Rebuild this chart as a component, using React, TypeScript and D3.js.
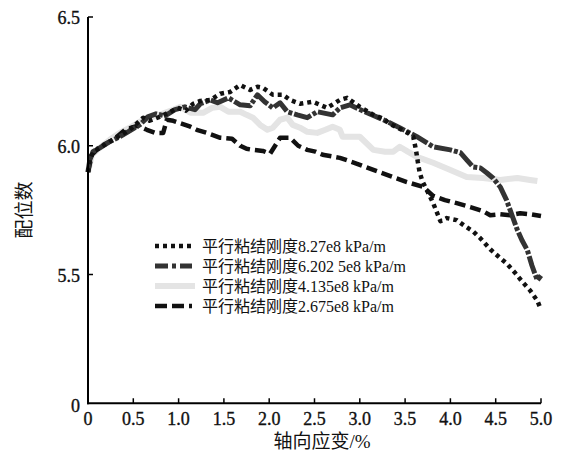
import React from 'react';
import * as d3 from 'd3';

// axial strain (%) and coordination number for each parallel-bond stiffness
const strainA = [0, 0.02, 0.055, 0.13, 0.24, 0.35, 0.46, 0.61, 0.68, 0.79, 0.91, 0.99, 1.08, 1.16, 1.24, 1.35, 1.46, 1.57, 1.68, 1.79, 1.87, 1.93, 2.04, 2.15, 2.23, 2.34, 2.48, 2.64, 2.78, 2.86, 3.0, 3.15, 3.26, 3.33, 3.44, 3.53, 3.59, 3.62, 3.64, 3.66, 3.69, 3.74, 3.81, 3.85, 3.89, 3.96, 4.07, 4.16, 4.25, 4.33, 4.44, 4.53, 4.62, 4.71, 4.8, 4.88, 4.96, 5.0];
const coordA = [5.898, 5.945, 5.977, 5.992, 6.016, 6.039, 6.062, 6.109, 6.097, 6.112, 6.132, 6.147, 6.136, 6.163, 6.174, 6.178, 6.202, 6.209, 6.236, 6.217, 6.229, 6.225, 6.198, 6.198, 6.178, 6.163, 6.171, 6.147, 6.178, 6.186, 6.151, 6.12, 6.105, 6.085, 6.066, 6.05, 6.035, 5.984, 5.938, 5.898, 5.863, 5.828, 5.777, 5.742, 5.707, 5.719, 5.711, 5.688, 5.668, 5.641, 5.598, 5.57, 5.543, 5.508, 5.469, 5.438, 5.398, 5.363];

const strainB = [0, 0.02, 0.055, 0.13, 0.24, 0.35, 0.46, 0.57, 0.66, 0.75, 0.85, 0.96, 1.07, 1.18, 1.24, 1.35, 1.43, 1.55, 1.68, 1.79, 1.87, 1.95, 2.04, 2.12, 2.2, 2.31, 2.42, 2.53, 2.7, 2.78, 2.89, 3.08, 3.26, 3.44, 3.63, 3.81, 4.0, 4.11, 4.18, 4.25, 4.33, 4.4, 4.47, 4.55, 4.62, 4.68, 4.74, 4.79, 4.85, 4.9, 4.96, 5.0];
const coordB = [5.898, 5.945, 5.977, 5.992, 6.016, 6.035, 6.058, 6.081, 6.112, 6.124, 6.116, 6.14, 6.151, 6.14, 6.163, 6.178, 6.167, 6.186, 6.159, 6.155, 6.198, 6.171, 6.147, 6.167, 6.132, 6.12, 6.109, 6.132, 6.12, 6.147, 6.159, 6.128, 6.101, 6.07, 6.035, 5.996, 5.984, 5.973, 5.945, 5.918, 5.914, 5.895, 5.875, 5.84, 5.789, 5.73, 5.672, 5.633, 5.594, 5.535, 5.477, 5.496];

const strainC = [0, 0.044, 0.13, 0.24, 0.35, 0.46, 0.57, 0.68, 0.79, 0.94, 1.02, 1.13, 1.27, 1.37, 1.46, 1.55, 1.68, 1.75, 1.82, 1.9, 1.98, 2.04, 2.12, 2.2, 2.26, 2.34, 2.42, 2.53, 2.62, 2.7, 2.78, 2.81, 3.0, 3.15, 3.28, 3.37, 3.44, 3.53, 3.63, 3.81, 4.0, 4.18, 4.36, 4.55, 4.74, 4.88, 4.96];
const coordC = [5.898, 5.965, 5.992, 6.023, 6.05, 6.07, 6.093, 6.109, 6.12, 6.14, 6.151, 6.128, 6.128, 6.147, 6.151, 6.132, 6.132, 6.12, 6.109, 6.081, 6.062, 6.07, 6.101, 6.109, 6.081, 6.07, 6.054, 6.05, 6.062, 6.074, 6.062, 6.035, 6.035, 5.984, 5.977, 5.977, 5.996, 5.977, 5.957, 5.934, 5.906, 5.879, 5.875, 5.867, 5.875, 5.867, 5.863];

const strainD = [0, 0.044, 0.13, 0.28, 0.41, 0.55, 0.65, 0.74, 0.83, 0.87, 0.94, 1.04, 1.13, 1.2, 1.31, 1.46, 1.59, 1.68, 1.75, 1.82, 1.93, 2.01, 2.12, 2.23, 2.32, 2.42, 2.51, 2.59, 2.78, 2.97, 3.15, 3.33, 3.52, 3.7, 3.81, 3.94, 4.07, 4.22, 4.36, 4.44, 4.55, 4.66, 4.77, 4.88, 5.0];
const coordD = [5.898, 5.965, 5.996, 6.023, 6.062, 6.078, 6.062, 6.05, 6.05, 6.101, 6.097, 6.085, 6.074, 6.062, 6.05, 6.031, 6.027, 6.0, 5.988, 5.984, 5.98, 5.969, 6.031, 6.031, 6.0, 5.984, 5.977, 5.965, 5.953, 5.93, 5.906, 5.883, 5.859, 5.84, 5.805, 5.789, 5.777, 5.762, 5.746, 5.73, 5.734, 5.73, 5.738, 5.734, 5.727];

const seriesNames = [
  '平行粘结刚度8.27e8 kPa/m',
  '平行粘结刚度6.202 5e8 kPa/m',
  '平行粘结刚度4.135e8 kPa/m',
  '平行粘结刚度2.675e8 kPa/m',
];

const xTicks = [0, 0.5, 1.0, 1.5, 2.0, 2.5, 3.0, 3.5, 4.0, 4.5, 5.0];
const xTickLabels = ['0', '0.5', '1.0', '1.5', '2.0', '2.5', '3.0', '3.5', '4.0', '4.5', '5.0'];
const yTicks = [5.5, 6.0, 6.5];
const yTickLabels = ['5.5', '6.0', '6.5'];
const yBreakLabel = '0'; // broken axis: origin labelled 0

const xTitle = '轴向应变/%';
const yTitle = '配位数';

const FONT = "'Liberation Serif', 'Times New Roman', 'Noto Sans CJK SC', serif";

export default function App() {
  const x = d3.scaleLinear().domain([0, 5]).range([88, 541]);
  const y = d3.scaleLinear().domain([5.5, 6.5]).range([274.5, 17]);
  const yBottom = y(5.0); // axis origin (broken axis)

  const line = d3
    .line<[number, number]>()
    .x((d) => x(d[0]))
    .y((d) => y(d[1]));

  const zip = (a: number[], b: number[]) => a.map((v, i) => [v, b[i]] as [number, number]);

  const styles = [
    { stroke: '#111', width: 4.5, dash: '4 4' },
    { stroke: '#333', width: 5, dash: '18 2 4 2' },
    { stroke: '#e4e4e4', width: 6, dash: undefined },
    { stroke: '#111', width: 4.5, dash: '11 5' },
  ];
  const legendDash = ['4 4', '13 4 4 4', undefined, '12 5'];
  const data = [zip(strainA, coordA), zip(strainB, coordB), zip(strainC, coordC), zip(strainD, coordD)];
  const drawOrder = [2, 3, 1, 0];

  const labelStyle = { fontFamily: FONT };

  return (
    <svg
      width={563}
      height={455}
      style={{ position: 'absolute', left: 0, top: 0, background: '#fff', fontFamily: FONT }}
    >
      <rect x={0} y={0} width={563} height={455} fill="#fff" />
      {drawOrder.map((i) => (
        <path
          key={i}
          d={line(data[i]) || ''}
          fill="none"
          stroke={styles[i].stroke}
          strokeWidth={styles[i].width}
          strokeDasharray={styles[i].dash}
          strokeLinejoin="round"
        />
      ))}

      {/* axes */}
      <line x1={88} x2={88} y1={y(6.5)} y2={yBottom + 1} stroke="#000" strokeWidth={2} />
      <line x1={87} x2={x(5)} y1={yBottom} y2={yBottom} stroke="#000" strokeWidth={2} />
      {xTicks.map((t, i) => (
        <g key={'xt' + i}>
          {i > 0 && <line x1={x(t)} x2={x(t)} y1={yBottom} y2={yBottom - 5} stroke="#000" strokeWidth={1.5} />}
          <text x={x(t)} y={425} textAnchor="middle" fontSize={18} fill="#111" stroke="#111" strokeWidth={0.35} style={labelStyle}>
            {xTickLabels[i]}
          </text>
        </g>
      ))}
      {yTicks.map((t, i) => (
        <g key={'yt' + i}>
          <line x1={88} x2={93} y1={y(t)} y2={y(t)} stroke="#000" strokeWidth={1.5} />
          <text x={80} y={y(t) + 7} textAnchor="end" fontSize={18} fill="#111" stroke="#111" strokeWidth={0.35} style={labelStyle}>
            {yTickLabels[i]}
          </text>
        </g>
      ))}
      <text x={80} y={yBottom + 9} textAnchor="end" fontSize={18} fill="#111" stroke="#111" strokeWidth={0.35} style={labelStyle}>
        {yBreakLabel}
      </text>

      {/* axis titles */}
      <text x={322} y={448} textAnchor="middle" fontSize={19} fill="#111" style={labelStyle}>
        {xTitle}
      </text>
      <text transform={`translate(31,210) rotate(-90)`} textAnchor="middle" fontSize={19} fill="#111" style={labelStyle}>
        {yTitle}
      </text>

      {/* legend */}
      {seriesNames.map((name, i) => {
        const ly = 246 + i * 20;
        return (
          <g key={'lg' + i}>
            <line
              x1={155}
              x2={i === 2 ? 195 : 192}
              y1={ly}
              y2={ly}
              stroke={styles[i].stroke}
              strokeWidth={styles[i].width}
              strokeDasharray={legendDash[i]}
            />
            <text x={202} y={ly + 6} fontSize={16} fill="#111" style={labelStyle}>
              {name}
            </text>
          </g>
        );
      })}
    </svg>
  );
}
